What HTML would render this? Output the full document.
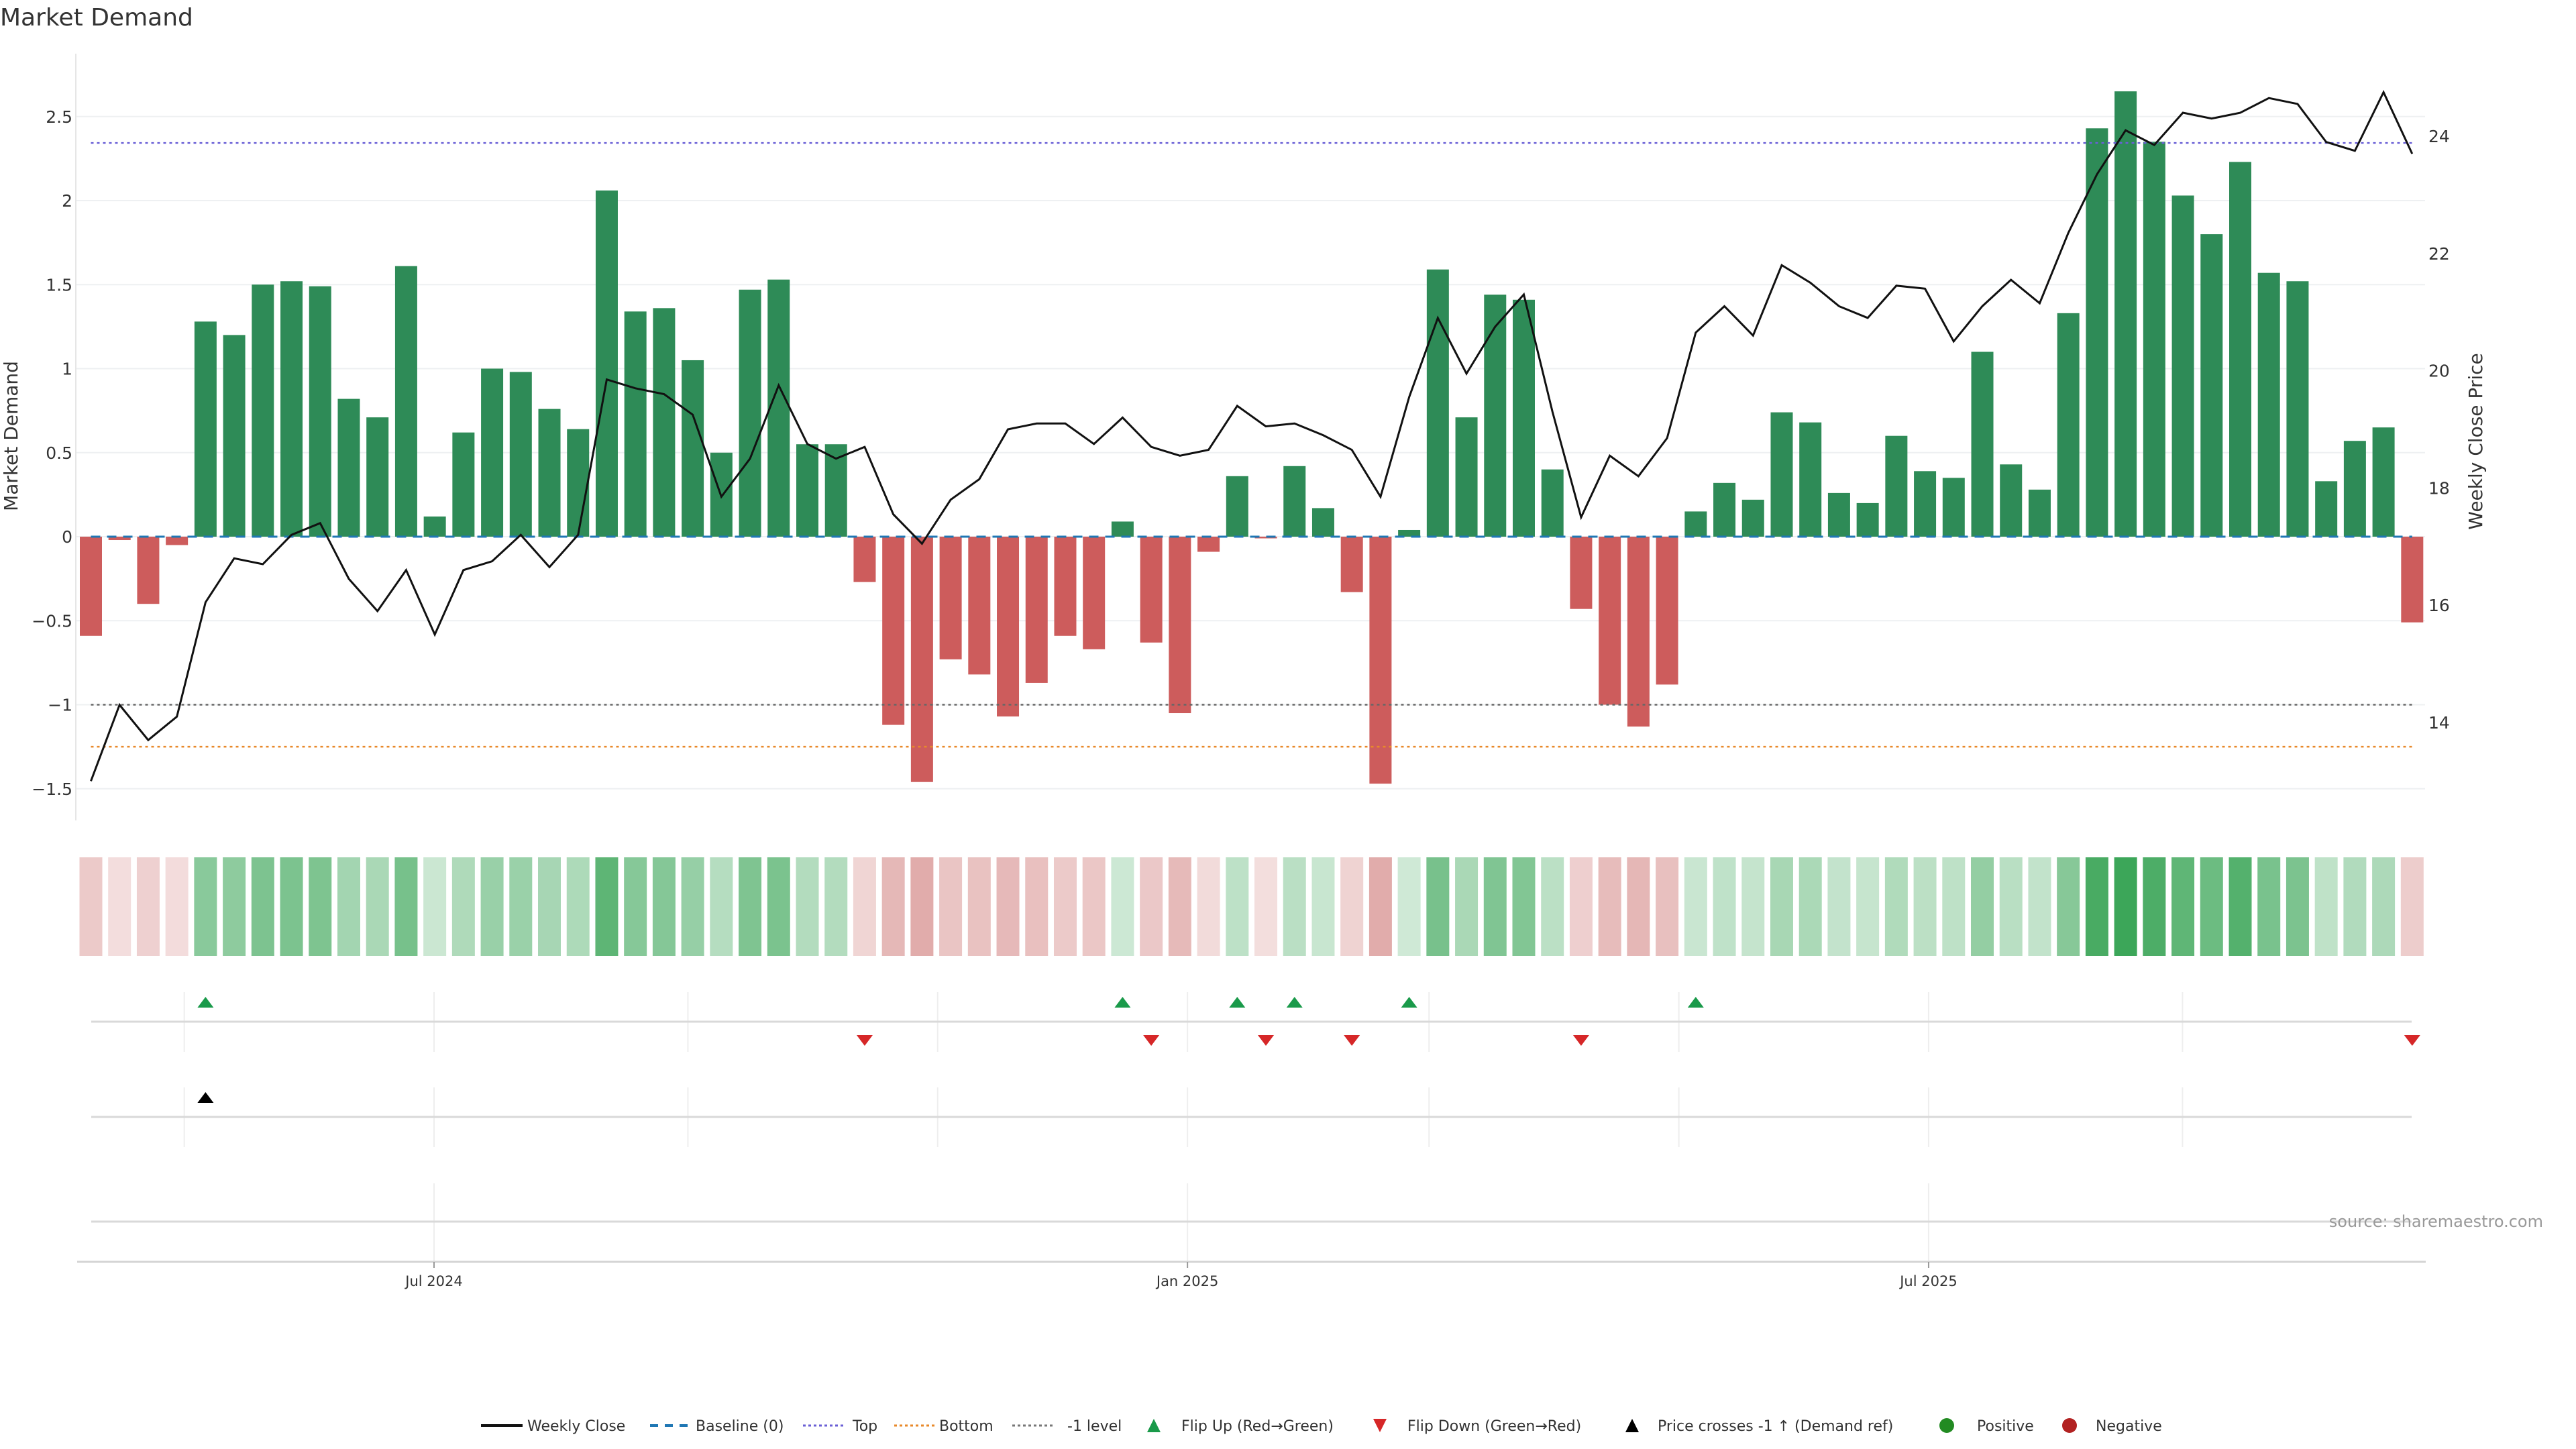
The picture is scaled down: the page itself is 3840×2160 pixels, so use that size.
<!DOCTYPE html>
<html><head><meta charset="utf-8"><title>Market Demand</title>
<style>
html,body{margin:0;padding:0;background:#fff;}
svg{display:block;font-family:"DejaVu Sans","Liberation Sans",sans-serif;}
</style></head>
<body>
<svg id="chart" xmlns="http://www.w3.org/2000/svg" width="3840" height="2160" viewBox="0 0 3840 2160">
<rect width="3840" height="2160" fill="#fff"/>
<text x="0" y="38" font-size="36" fill="#333">Market Demand</text>
<g id="grid"></g>
<g id="bars"></g>
<g id="refs"></g>
<g id="price"></g>
<g id="heat"></g>
<g id="signals"></g>
<g id="axes"></g>
<g id="legend"></g>
</svg>
<script>
const demand = [-0.59,-0.02,-0.40,-0.05,1.28,1.20,1.50,1.52,1.49,0.82,0.71,1.61,0.12,0.62,1.00,0.98,0.76,0.64,2.06,1.34,1.36,1.05,0.50,1.47,1.53,0.55,0.55,-0.27,-1.12,-1.46,-0.73,-0.82,-1.07,-0.87,-0.59,-0.67,0.09,-0.63,-1.05,-0.09,0.36,-0.01,0.42,0.17,-0.33,-1.47,0.04,1.59,0.71,1.44,1.41,0.40,-0.43,-1.00,-1.13,-0.88,0.15,0.32,0.22,0.74,0.68,0.26,0.20,0.60,0.39,0.35,1.10,0.43,0.28,1.33,2.43,2.65,2.35,2.03,1.80,2.23,1.57,1.52,0.33,0.57,0.65,-0.51];
const closePrice = [13.0,14.3,13.7,14.1,16.05,16.8,16.7,17.2,17.4,16.45,15.9,16.6,15.5,16.6,16.75,17.2,16.65,17.2,19.85,19.7,19.6,19.25,17.85,18.5,19.75,18.75,18.5,18.7,17.55,17.05,17.8,18.15,19.0,19.1,19.1,18.75,19.2,18.7,18.55,18.65,19.4,19.05,19.1,18.9,18.65,17.85,19.55,20.9,19.95,20.75,21.3,19.3,17.5,18.55,18.2,18.85,20.65,21.1,20.6,21.8,21.5,21.1,20.9,21.45,21.4,20.5,21.1,21.55,21.15,22.35,23.35,24.1,23.85,24.4,24.3,24.4,24.65,24.55,23.9,23.75,24.75,23.7];
const leftTicks = [-1.5,-1,-0.5,0,0.5,1,1.5,2,2.5];
const leftTickLabels = ["\u22121.5","\u22121","\u22120.5","0","0.5","1","1.5","2","2.5"];
const rightTicks = [14,16,18,20,22,24];
const topLevel = 2.343;
const bottomLevel = -1.25;
const minusOneLevel = -1;
const priceCrossIdx = [4];
const dateTickLabels = ["Jul 2024","Jan 2025","Jul 2025"];
const dateTickDays = [0,184,365];
const monthGridDays = [-61,0,62,123,184,243,304,365,427];

const NS="http://www.w3.org/2000/svg";
function mk(tag,attrs,parent){const e=document.createElementNS(NS,tag);for(const k in attrs)e.setAttribute(k,attrs[k]);parent.appendChild(e);return e;}
const X0=135.5, PITCH=42.72, BW=33;
function xAt(i){return X0+i*PITCH;}
function xDay(d){return 647 + d*6.104;}
function yD(v){return 800 - v*250.5;}
function yP(p){return 203 + (24-p)*87.4;}
const G=id=>document.getElementById(id);

// grid
for(let k=0;k<leftTicks.length;k++){
  const l=mk('line',{x1:113,x2:3615,y1:yD(leftTicks[k]),y2:yD(leftTicks[k]),stroke:'#eef0f2','stroke-width':2},G('grid'));
  
  
  const t=mk('text',{x:108,y:yD(leftTicks[k])+9,'font-size':25,'text-anchor':'end',fill:'#333'},G('axes'));
  t.textContent=leftTickLabels[k];
  
  
}
const ax=mk('line',{x1:113,x2:113,y1:80,y2:1223,stroke:'#e6e6e6','stroke-width':2},G('axes'));


for(const p of rightTicks){
  const t=mk('text',{x:3620,y:yP(p)+9,'font-size':25,fill:'#333'},G('axes'));
  t.textContent=String(p);
  
  
}
let yt=mk('text',{x:0,y:0,'font-size':28,fill:'#333','text-anchor':'middle',transform:'translate(26,650) rotate(-90)'},G('axes'));
yt.textContent='Market Demand';


yt=mk('text',{x:0,y:0,'font-size':28,fill:'#333','text-anchor':'middle',transform:'translate(3700,658) rotate(-90)'},G('axes'));
yt.textContent='Weekly Close Price';



// bars
demand.forEach((v,i)=>{
  const y=Math.min(yD(v),yD(0)), h=Math.abs(yD(v)-yD(0));
  const r=mk('rect',{x:xAt(i)-BW/2,y:y,width:BW,height:Math.max(h,1),fill:v>=0?'#2e8b57':'#cd5c5c'},G('bars'));
  
  
});

// reference lines
function ref(v,color,dash,name,w){
  const l=mk('line',{x1:xAt(0),x2:xAt(demand.length-1),y1:yD(v),y2:yD(v),stroke:color,'stroke-width':w||2.5,'stroke-dasharray':dash},G('refs'));
  
  
}
ref(0,'#1f77b4','14 10','baseline-line',3);
ref(topLevel,'#6a5fd6','4 5','top-line');
ref(bottomLevel,'#e8892a','4 5','bottom-line');
ref(minusOneLevel,'#666','4 5','minus-one-line');

// price line
const pl=mk('polyline',{points:closePrice.map((p,i)=>xAt(i)+','+yP(p)).join(' '),fill:'none',stroke:'#111','stroke-width':3,'stroke-linejoin':'miter'},G('price'));



// heat strip
function mix(c,t){return 'rgb('+c.map(x=>Math.round(255+(x-255)*t)).join(',')+')';}
demand.forEach((v,i)=>{
  const t=Math.min(Math.abs(v)/2.65,1);
  const col=v>=0?mix([48,160,78],0.22+0.72*t):mix([196,90,88],0.2+0.55*t);
  const r=mk('rect',{x:xAt(i)-17,y:1278,width:34,height:147,fill:col},G('heat'));
  
  
});

// signal panels
const S=G('signals');
for(const d of monthGridDays){
  const x=xDay(d);
  [[1479,1568],[1621,1710]].forEach(([a,b])=>{const l=mk('line',{x1:x,x2:x,y1:a,y2:b,stroke:'#eeeeee','stroke-width':2},S);});
}
dateTickDays.forEach(d=>{const x=xDay(d);const l=mk('line',{x1:x,x2:x,y1:1764,y2:1881,stroke:'#eeeeee','stroke-width':2},S);});
[1523,1665,1821].forEach(y=>{const l=mk('line',{x1:136,x2:3595,y1:y,y2:y,stroke:'#d9d9d9','stroke-width':3},S);});
function tri(x,y,up,color,name){
  const s=12,h=16;
  const pts=up?`${x-s},${y+h/2} ${x+s},${y+h/2} ${x},${y-h/2}`:`${x-s},${y-h/2} ${x+s},${y-h/2} ${x},${y+h/2}`;
  const p=mk('polygon',{points:pts,fill:color},S);
  
  
}
for(let i=1;i<demand.length;i++){
  if(demand[i-1]<0&&demand[i]>=0)tri(xAt(i),1494,true,'#1a9a4a','flip-up-marker');
  if(demand[i-1]>=0&&demand[i]<0)tri(xAt(i),1551,false,'#d62728','flip-down-marker');
}
priceCrossIdx.forEach(i=>tri(xAt(i),1636,true,'#000','price-cross-marker'));
const bl=mk('line',{x1:115,x2:3616,y1:1881,y2:1881,stroke:'#d5d5d5','stroke-width':3},S);


dateTickLabels.forEach((lab,k)=>{
  const x=xDay(dateTickDays[k]);
  const tk=mk('line',{x1:x,x2:x,y1:1881,y2:1890,stroke:'#999','stroke-width':2},S);
  
  
  const t=mk('text',{x:x,y:1917,'font-size':21,'text-anchor':'middle',fill:'#333'},S);
  t.textContent=lab;
  
  
});
const src=mk('text',{x:3791,y:1829,'font-size':24,'text-anchor':'end',fill:'#999'},S);
src.textContent='source: sharemaestro.com';



// legend
const L=G('legend'), LY=2125;
function ltext(x,s){const t=mk('text',{x:x,y:LY+8,'font-size':22,fill:'#333'},L);t.textContent=s;}
function lline(x,color,dash,w){const l=mk('line',{x1:x,x2:x+62,y1:LY,y2:LY,stroke:color,'stroke-width':w,'stroke-dasharray':dash},L);}
lline(717,'#111','none',4);ltext(786,'Weekly Close');
lline(969,'#1f77b4','12 10',4);ltext(1037,'Baseline (0)');
lline(1197,'#6a5fd6','4 4',3);ltext(1271,'Top');
lline(1333,'#e8892a','4 4',3);ltext(1400,'Bottom');
lline(1509,'#777','4 4',3);ltext(1591,'-1 level');
function ltri(x,up,color){const pts=up?`${x-10},${LY+10} ${x+10},${LY+10} ${x},${LY-10}`:`${x-10},${LY-10} ${x+10},${LY-10} ${x},${LY+10}`;const p=mk('polygon',{points:pts,fill:color},L);}
ltri(1720,true,'#1a9a4a');ltext(1761,'Flip Up (Red\u2192Green)');
ltri(2057,false,'#d62728');ltext(2098,'Flip Down (Green\u2192Red)');
ltri(2433,true,'#000');ltext(2471,'Price crosses -1 \u2191 (Demand ref)');
function ldot(x,color){const c=mk('circle',{cx:x,cy:LY,r:11,fill:color},L);}
ldot(2902,'#228b22');ltext(2947,'Positive');
ldot(3085,'#b22222');ltext(3124,'Negative');
</script>
</body></html>
